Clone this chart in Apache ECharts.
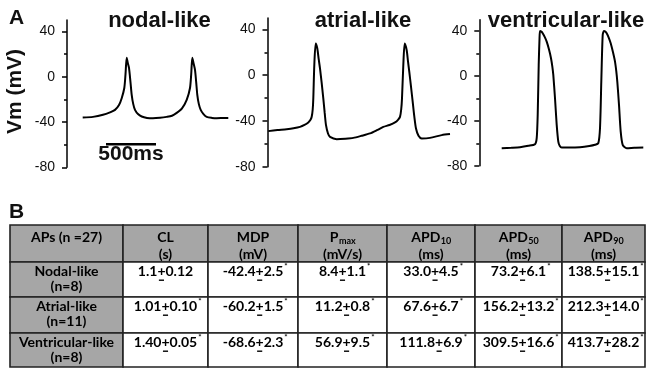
<!DOCTYPE html>
<html><head><meta charset="utf-8">
<script src="https://cdn.jsdelivr.net/npm/echarts@6/dist/echarts.min.js"></script>
<style>html,body{margin:0;padding:0;background:#fff}#c{width:649px;height:368px}</style>
</head><body><div id="c"></div>
<script>
// ---------- Panel A data: [time (ms), Vm (mV)] ----------
const nodalTrace = [[157,-36.1],[260,-35.5],[360,-33.7],[430,-31.5],[480,-29.3],[520,-25],[547,-19],[573,-10],[585,2],[597,16.7],[608,12],[620,7.7],[635,-5],[647,-16],[662,-24],[680,-29.3],[710,-33],[747,-35.2],[800,-36.4],[860,-36.7],[930,-36.3],[997,-35.5],[1050,-34.5],[1097,-32],[1150,-28],[1197,-20.5],[1230,-10],[1242,2],[1253,16.7],[1265,12],[1280,5.9],[1292,-5],[1303,-16],[1318,-24],[1337,-29.3],[1365,-33],[1397,-35.5],[1450,-36.4],[1497,-36.7],[1560,-36.5],[1613,-36.4]];
const atrialTrace = [[8,-48.9],[100,-48],[192,-47.2],[260,-46.4],[325,-45.2],[370,-43.5],[408,-41.3],[430,-39],[442,-36.4],[452,-30],[458,-20.3],[468,8.7],[482,27.7],[498,23.3],[512,14],[525,5.9],[542,-7],[558,-20.3],[572,-33],[585,-43.7],[605,-51],[625,-53.9],[692,-55.9],[780,-55.5],[858,-54.8],[940,-53],[1025,-50.9],[1100,-47.8],[1158,-45.2],[1220,-43.5],[1275,-41.3],[1305,-39],[1325,-36.4],[1337,-30],[1345,-20.3],[1358,8.7],[1372,27.7],[1392,21.8],[1405,12],[1418,2.9],[1435,-10],[1452,-23.3],[1468,-36],[1485,-46.6],[1510,-53],[1542,-55.3],[1625,-54.8],[1742,-52.4],[1825,-51.5]];
const ventricularTrace = [[224,-64.4],[320,-64],[407,-63.5],[490,-62.3],[557,-60.8],[574,-55.5],[584,-34.7],[594,9.8],[602,33],[607,40.1],[620,39.5],[634,38],[655,34.5],[674,30.5],[697,23.5],[717,15.8],[730,8.5],[740,0.9],[757,-19.9],[774,-43.6],[790,-58.5],[805,-62.5],[824,-63.8],[900,-63.8],[1007,-63.5],[1100,-62.5],[1157,-61.4],[1190,-59.9],[1207,-46.6],[1220,-5.1],[1234,36.5],[1247,40.1],[1260,39.5],[1274,38],[1295,34],[1314,29.1],[1337,21],[1357,12.7],[1370,4],[1380,-5.1],[1397,-25.8],[1414,-49.6],[1434,-61.4],[1474,-64.4],[1550,-64],[1640,-63.8]];
const panelTitles = ['nodal-like', 'atrial-like', 'ventricular-like'];
const yMajorTicks = [-80, -40, 0, 40];
const yMinorTicks = [-60, -20, 20];
const yAxisTitle = 'Vm (mV)';
const scaleBarMs = 500;
const scaleBarLabel = '500ms';

// ---------- Panel B table data ----------
const tableColumns = ['APs (n =27)', 'CL', 'MDP', 'P', 'APD', 'APD', 'APD'];
const tableColumnSubs = ['', '', '', 'max', '10', '50', '90'];
const tableUnits = ['', '(s)', '(mV)', '(mV/s)', '(ms)', '(ms)', '(ms)'];
const rowNames = ['Nodal-like', 'Atrial-like', 'Ventricular-like'];
const rowCounts = ['(n=8)', '(n=11)', '(n=8)'];
const meanCL = ['1.1', '1.01', '1.40'];       const sdCL = ['0.12', '0.10', '0.05'];
const meanMDP = ['-42.4', '-60.2', '-68.6'];  const sdMDP = ['2.5', '1.5', '2.3'];
const meanPmax = ['8.4', '11.2', '56.9'];     const sdPmax = ['1.1', '0.8', '9.5'];
const meanAPD10 = ['33.0', '67.6', '111.8'];  const sdAPD10 = ['4.5', '6.7', '6.9'];
const meanAPD50 = ['73.2', '156.2', '309.5']; const sdAPD50 = ['6.1', '13.2', '16.6'];
const meanAPD90 = ['138.5', '212.3', '413.7'];const sdAPD90 = ['15.1', '14.0', '28.2'];
const significant = [
  [false, true, true, true, true, true],
  [true, true, true, true, true, true],
  [true, true, true, true, true, true]
];

// ---------- layout ----------
const means = [meanCL, meanMDP, meanPmax, meanAPD10, meanAPD50, meanAPD90];
const sds = [sdCL, sdMDP, sdPmax, sdAPD10, sdAPD50, sdAPD90];
const colEdges = [0, 113, 198, 288, 377, 465, 552, 635];
const rowEdges = [0, 37, 72, 108, 142];
const AF = 'Liberation Sans, Arial, sans-serif';
const TF = 'Lato, "Open Sans", sans-serif';
const GRAY = '#a6a6a6';

const mctx = document.createElement('canvas').getContext('2d');
function tw(text, font) { mctx.font = font; return mctx.measureText(text).width; }

const panels = [
  {grid: {left: 67, top: 20, width: 165, height: 147.3}, xmax: 1650, data: nodalTrace, tx: 159.5},
  {grid: {left: 267.5, top: 18, width: 185, height: 148.7}, xmax: 1850, data: atrialTrace, tx: 363},
  {grid: {left: 479.3, top: 19.8, width: 166, height: 145.9}, xmax: 1660, data: ventricularTrace, tx: 566}
];

const grids = [], xAxes = [], yAxes = [], series = [], graphics = [];
panels.forEach((p, i) => {
  grids.push(p.grid);
  xAxes.push({type: 'value', gridIndex: i, min: 0, max: p.xmax, show: false});
  yAxes.push({
    type: 'value', gridIndex: i, min: -80, max: 50, position: 'left',
    axisLine: {show: true, lineStyle: {color: '#000', width: 1.5}},
    axisTick: {show: true, length: 5, customValues: yMajorTicks, lineStyle: {color: '#000', width: 1.5}},
    axisLabel: {show: true, customValues: yMajorTicks, color: '#111', fontSize: 14, fontFamily: AF, margin: 12},
    splitLine: {show: false}
  });
  yAxes.push({
    type: 'value', gridIndex: i, min: -80, max: 50, position: 'left',
    axisLine: {show: false},
    axisTick: {show: true, length: 3, customValues: yMinorTicks, lineStyle: {color: '#000', width: 1.5}},
    axisLabel: {show: false}, splitLine: {show: false}
  });
  series.push({
    type: 'line', xAxisIndex: i, yAxisIndex: i * 2, data: p.data, showSymbol: false,
    smooth: 0.25, lineStyle: {color: '#000', width: 2}, silent: true
  });
  graphics.push({type: 'text', x: p.tx, y: 20.5, style: {text: panelTitles[i], font: 'bold 22px ' + AF, fill: '#111', align: 'center', verticalAlign: 'middle'}});
});

// scale bar (in panel 1 coordinates)
const scaleBarStart = 390, scaleBarLevel = -59.6;
series.push({
  type: 'line', xAxisIndex: 0, yAxisIndex: 0, showSymbol: false, silent: true,
  data: [[scaleBarStart, scaleBarLevel], [scaleBarStart + scaleBarMs, scaleBarLevel]],
  lineStyle: {color: '#000', width: 2.5}
});
graphics.push({type: 'text', x: 131, y: 154, style: {text: scaleBarLabel, font: 'bold 21px ' + AF, fill: '#111', align: 'center', verticalAlign: 'middle'}});
graphics.push({type: 'text', x: 9, y: 18, style: {text: 'A', font: 'bold 21px ' + AF, fill: '#111', align: 'left', verticalAlign: 'middle'}});
graphics.push({type: 'text', x: 9, y: 212, style: {text: 'B', font: 'bold 21px ' + AF, fill: '#111', align: 'left', verticalAlign: 'middle'}});
graphics.push({type: 'text', x: 15, y: 91.5, rotation: Math.PI / 2, style: {text: yAxisTitle, font: 'bold 21px ' + AF, fill: '#111', align: 'center', verticalAlign: 'middle'}});

// table grid
grids.push({left: 10, top: 225, width: 635, height: 142});
xAxes.push({type: 'value', gridIndex: 3, min: 0, max: colEdges[colEdges.length - 1], show: false});
yAxes.push({type: 'value', gridIndex: 3, min: 0, max: rowEdges[rowEdges.length - 1], inverse: true, show: false});
const cells = [];
for (let r = 0; r < 4; r++) for (let c = 0; c < 7; c++) cells.push([c, r]);

const FB = 'bold 14px ' + TF;
function txt(x, y, s, font, align) {
  return {type: 'text', x, y, style: {text: s, font: font || FB, fill: '#000', align: align || 'center', verticalAlign: 'middle'}};
}
function renderCell(params, api) {
  const c = api.value(0), r = api.value(1);
  const p0 = api.coord([colEdges[c], rowEdges[r]]);
  const p1 = api.coord([colEdges[c + 1], rowEdges[r + 1]]);
  const x = p0[0], y = p0[1], w = p1[0] - p0[0], h = p1[1] - p0[1];
  const cx = x + w / 2;
  const ch = [{type: 'rect', shape: {x, y, width: w, height: h}, style: {fill: (r === 0 || c === 0) ? GRAY : '#fff', stroke: '#222', lineWidth: 1.6}}];
  if (r === 0) {
    if (c === 0) ch.push(txt(cx, y + 12, tableColumns[0]));
    else {
      const main = tableColumns[c], sub = tableColumnSubs[c];
      const SF = 'bold 9px ' + TF;
      const wm = tw(main, FB), ws = sub ? tw(sub, SF) : 0;
      const left = cx - (wm + ws) / 2;
      ch.push(txt(left, y + 12, main, FB, 'left'));
      if (sub) ch.push(txt(left + wm + 0.5, y + 16, sub, SF, 'left'));
      ch.push(txt(cx, y + 29, tableUnits[c]));
    }
  } else {
    const ri = r - 1;
    const ty = y + 9.7;
    if (c === 0) {
      ch.push(txt(cx, ty, rowNames[ri]));
      ch.push(txt(cx, ty + 15, rowCounts[ri]));
    } else {
      const m = means[c - 1][ri], s = sds[c - 1][ri];
      const full = m + '+' + s;
      const W = tw(full, FB), wm = tw(m, FB), wp = tw('+', FB);
      const left = cx - W / 2;
      ch.push(txt(left, ty, full, FB, 'left'));
      ch.push({type: 'line', shape: {x1: left + wm + 1.5, y1: ty + 8.5, x2: left + wm + wp - 1.5, y2: ty + 8.5}, style: {stroke: '#000', lineWidth: 1.4}});
      if (significant[ri][c - 1]) ch.push(txt(left + W + 1, ty - 5, '*', 'bold 8px ' + TF, 'left'));
    }
  }
  return {type: 'group', children: ch};
}
series.push({type: 'custom', xAxisIndex: 3, yAxisIndex: yAxes.length - 1, data: cells, renderItem: renderCell, clip: false, silent: true, animation: false});

const chart = echarts.init(document.getElementById('c'), null, {renderer: 'canvas'});
chart.setOption({
  animation: false,
  backgroundColor: '#fff',
  grid: grids, xAxis: xAxes, yAxis: yAxes, series, graphic: graphics
});
</script></body></html>
